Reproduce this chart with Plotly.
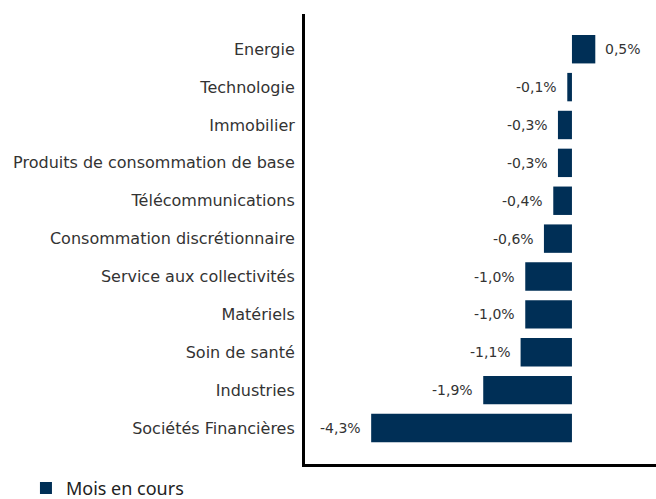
import plotly.graph_objects as go

# Sector returns for the current month (%)
sectors = [
    "Energie",
    "Technologie",
    "Immobilier",
    "Produits de consommation de base",
    "Télécommunications",
    "Consommation discrétionnaire",
    "Service aux collectivités",
    "Matériels",
    "Soin de santé",
    "Industries",
    "Sociétés Financières",
]
returns = [0.5, -0.1, -0.3, -0.3, -0.4, -0.6, -1.0, -1.0, -1.1, -1.9, -4.3]
series_name = "Mois en cours"

BAR_COLOR = "#002f56"
TEXT_COLOR = "#333333"
LABEL_FONT = "DejaVu Sans"

positions = list(range(len(sectors)))


def fr_pct(v):
    return f"{v:.1f}".replace(".", ",") + "%"


fig = go.Figure()
fig.add_trace(
    go.Bar(
        x=returns,
        y=positions,
        orientation="h",
        width=0.75,
        marker=dict(color=BAR_COLOR, line=dict(width=0)),
        name=series_name,
        showlegend=True,
        hoverinfo="skip",
    )
)

# Value labels just outside each bar end
for pos, v in zip(positions, returns):
    fig.add_annotation(
        x=v,
        y=pos,
        xref="x",
        yref="y",
        text=fr_pct(v),
        showarrow=False,
        xanchor="left" if v >= 0 else "right",
        xshift=8 if v >= 0 else -8,
        font=dict(family=LABEL_FONT, size=14, color=TEXT_COLOR),
    )

fig.update_layout(
    width=656,
    height=499,
    margin=dict(l=305, r=0, t=14, b=35, autoexpand=False),
    paper_bgcolor="white",
    plot_bgcolor="white",
    bargap=0.25,
    showlegend=True,
    legend=dict(
        orientation="h",
        xref="paper",
        yref="paper",
        x=-0.795,
        y=-0.054,
        xanchor="left",
        yanchor="middle",
        font=dict(family="Noto Sans", size=18, color="#222222"),
        itemsizing="constant",
        borderwidth=0,
    ),
    xaxis=dict(
        range=[-5.717, 1.8],
        showgrid=False,
        zeroline=False,
        showticklabels=False,
        ticks="",
        showline=True,
        linecolor="black",
        linewidth=3,
        fixedrange=True,
    ),
    yaxis=dict(
        range=[10.95, -0.93],
        tickmode="array",
        tickvals=positions,
        ticktext=sectors,
        showgrid=False,
        zeroline=False,
        ticks="",
        ticklabelstandoff=4,
        showline=True,
        linecolor="black",
        linewidth=3,
        automargin=False,
        tickfont=dict(family=LABEL_FONT, size=16, color=TEXT_COLOR),
        fixedrange=True,
    ),
)

fig.write_html("out.html")
